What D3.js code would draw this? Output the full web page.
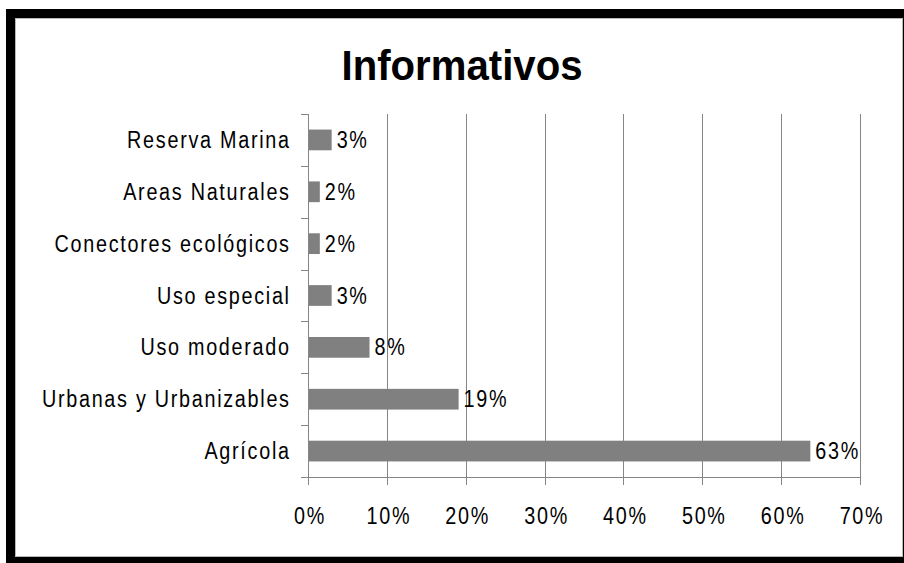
<!DOCTYPE html>
<html>
<head>
<meta charset="utf-8">
<script src="https://cdn.jsdelivr.net/npm/d3@7"></script>
<style>
  html, body { margin: 0; padding: 0; background: #fff; }
  svg { display: block; }
</style>
</head>
<body>
<script>
const title = "Informativos";
const categories = ["Reserva Marina", "Areas Naturales", "Conectores ecológicos", "Uso especial", "Uso moderado", "Urbanas y Urbanizables", "Agrícola"];
const values = [3.0, 1.5, 1.5, 3.0, 7.8, 19.1, 63.7];
const valueLabels = ["3%", "2%", "2%", "3%", "8%", "19%", "63%"];
const xTicks = [0, 10, 20, 30, 40, 50, 60, 70];

const W = 904, H = 563;
const svg = d3.select("body").append("svg").attr("width", W).attr("height", H);

// frame
svg.append("rect").attr("x", 6).attr("y", 9).attr("width", W - 6).attr("height", H - 9).attr("fill", "#000");
svg.append("rect").attr("x", 15.5).attr("y", 18.5).attr("width", 887).attr("height", 538)
  .attr("fill", "#fff").attr("stroke", "#b8b8b8").attr("stroke-width", 1);

const font = "'Liberation Sans', Arial, sans-serif";
const SX = 0.86, FS = 23, LS = 2.0;

function styleText(sel) {
  return sel.attr("font-family", font).attr("font-size", FS)
    .attr("letter-spacing", LS).attr("fill", "#000");
}

svg.append("text").attr("x", 462).attr("y", 80).attr("text-anchor", "middle")
  .attr("font-family", font).attr("font-weight", "bold").attr("font-size", 43)
  .attr("textLength", 241).attr("lengthAdjust", "spacingAndGlyphs")
  .attr("fill", "#000").text(title);

const x = d3.scaleLinear().domain([0, 70]).range([308, 860]);
const y = d3.scaleBand().domain(categories).range([114, 477]).paddingInner(0.6).paddingOuter(0.3);

const gridColor = "#868686";

// gridlines
svg.append("g").selectAll("line").data(xTicks.filter(t => t > 0)).join("line")
  .attr("x1", d => Math.round(x(d)) + 0.5).attr("x2", d => Math.round(x(d)) + 0.5)
  .attr("y1", 114).attr("y2", 477)
  .attr("stroke", gridColor).attr("stroke-width", 1);

// bars
svg.append("g").selectAll("rect").data(categories).join("rect")
  .attr("x", x(0)).attr("y", d => y(d))
  .attr("width", (d, i) => x(values[i]) - x(0))
  .attr("height", y.bandwidth())
  .attr("fill", "#808080");

// y axis line and ticks at band boundaries
const yr = y.range();
svg.append("line").attr("x1", 308.5).attr("x2", 308.5).attr("y1", yr[0]).attr("y2", yr[1])
  .attr("stroke", gridColor);
svg.append("g").selectAll("line").data(d3.range(categories.length + 1)).join("line")
  .attr("x1", 301).attr("x2", 308)
  .attr("y1", i => Math.round(yr[0] + i * y.step()) + 0.5)
  .attr("y2", i => Math.round(yr[0] + i * y.step()) + 0.5)
  .attr("stroke", gridColor);

// x axis line and ticks
svg.append("line").attr("x1", 308).attr("x2", x(70) + 1).attr("y1", 477.5).attr("y2", 477.5)
  .attr("stroke", gridColor);
svg.append("g").selectAll("line").data(xTicks).join("line")
  .attr("x1", d => Math.round(x(d)) + 0.5).attr("x2", d => Math.round(x(d)) + 0.5)
  .attr("y1", 477).attr("y2", 485)
  .attr("stroke", gridColor);

// x tick labels
styleText(svg.append("g").selectAll("text").data(xTicks).join("text")
  .attr("transform", d => `translate(${x(d) + 2},524) scale(${SX},1)`)
  .attr("text-anchor", "middle")
  .text(d => d + "%"));

// category labels
styleText(svg.append("g").selectAll("text").data(categories).join("text")
  .attr("transform", d => `translate(${289 + LS * SX},${y(d) + y.bandwidth() / 2 + 8}) scale(${SX},1)`)
  .attr("text-anchor", "end")
  .text(d => d));

// value labels
styleText(svg.append("g").selectAll("text").data(categories).join("text")
  .attr("transform", (d, i) => `translate(${x(values[i]) + 5},${y(d) + y.bandwidth() / 2 + 8}) scale(${SX},1)`)
  .text((d, i) => valueLabels[i]));
</script>
</body>
</html>
